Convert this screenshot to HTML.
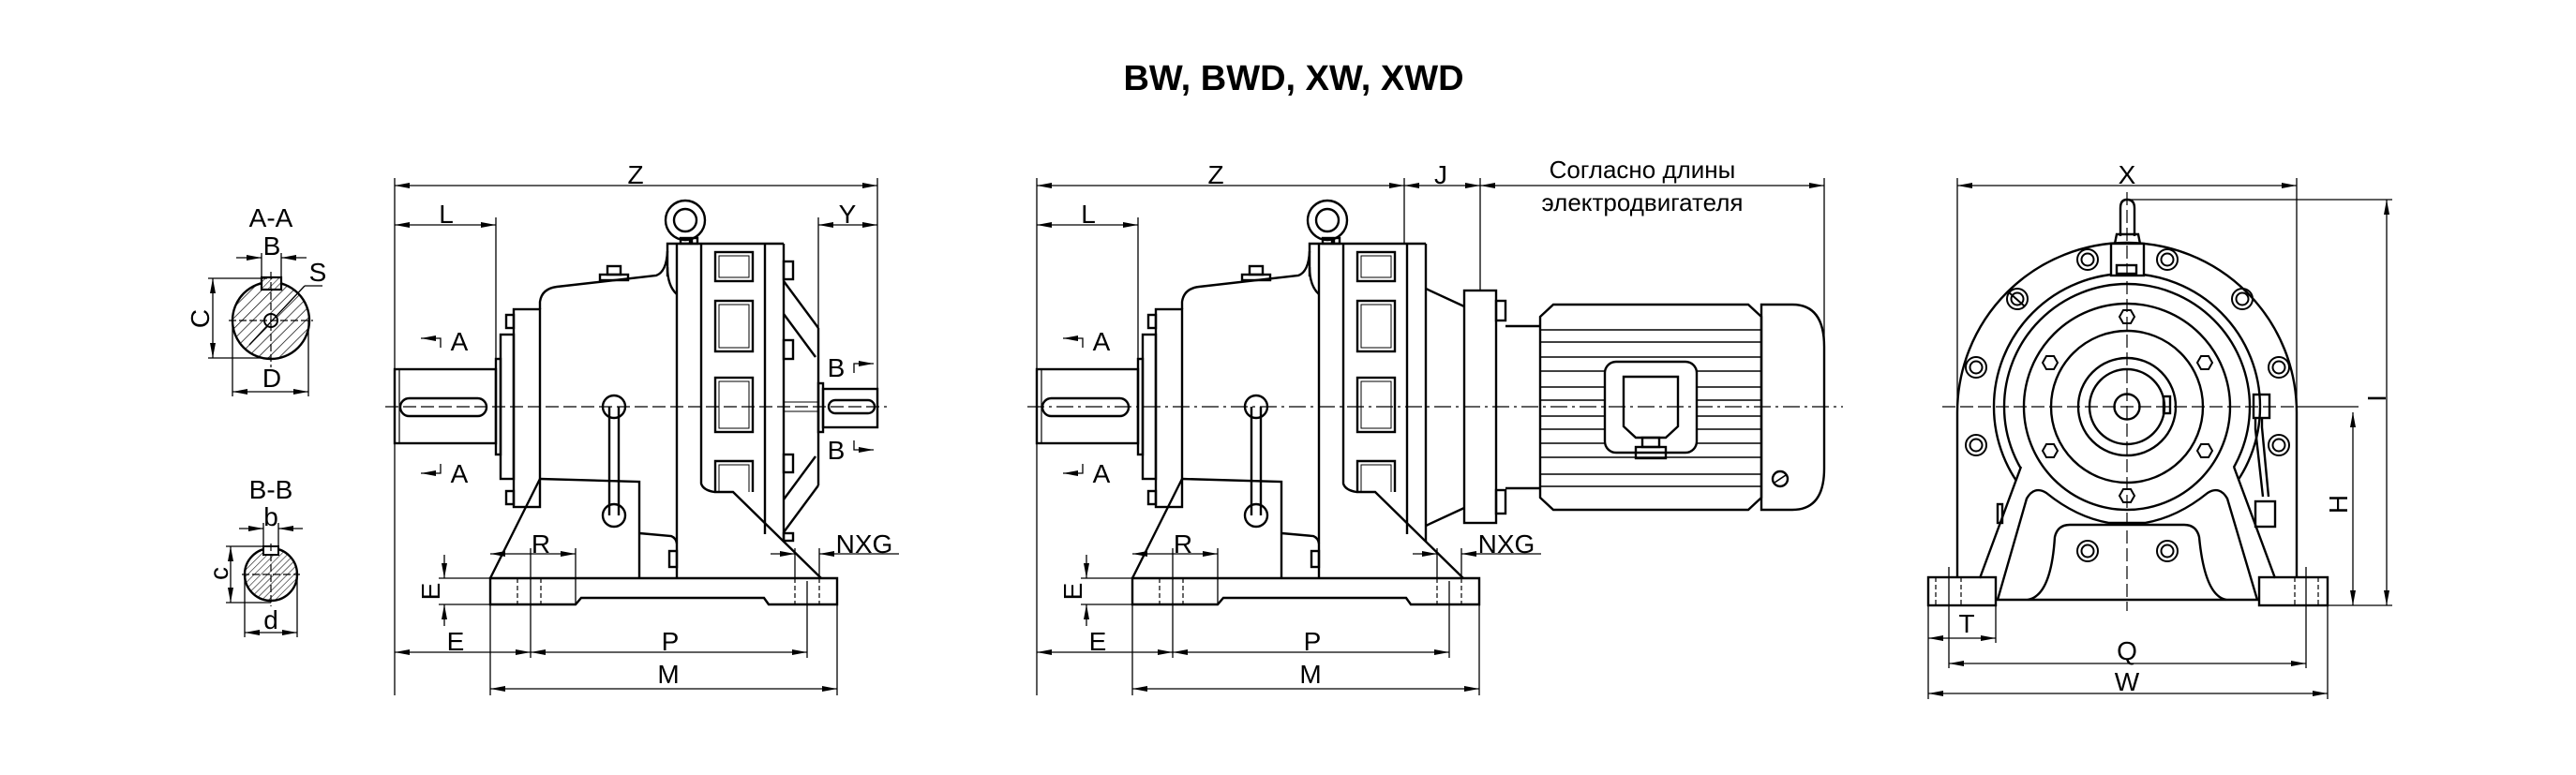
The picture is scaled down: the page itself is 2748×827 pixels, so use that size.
<!DOCTYPE html>
<html><head><meta charset="utf-8"><style>
html,body{margin:0;padding:0;background:#fff;}
svg{display:block;}
text{font-family:"Liberation Sans",sans-serif;fill:#000;}
</style></head><body>
<svg width="2748" height="827" viewBox="0 0 2748 827" xmlns="http://www.w3.org/2000/svg">
<defs>
<marker id="ar" markerUnits="userSpaceOnUse" markerWidth="16" markerHeight="8" refX="16" refY="4" orient="auto-start-reverse"><path d="M0,1 L16,4 L0,7 z" fill="#000"/></marker>
<pattern id="h1" width="8" height="8" patternUnits="userSpaceOnUse" patternTransform="rotate(45)"><line x1="0" y1="0" x2="0" y2="8" stroke="#000" stroke-width="1.4"/></pattern>
<pattern id="h2" width="5" height="5" patternUnits="userSpaceOnUse" patternTransform="rotate(45)"><line x1="0" y1="0" x2="0" y2="5" stroke="#000" stroke-width="1.1"/></pattern>
<g id="common">
 <g fill="none" stroke="#000" stroke-width="2.4">
 <rect x="421" y="394" width="108" height="79"/>
 <line x1="426" y1="394" x2="426" y2="473" stroke-width="1.2"/>
 <rect x="427" y="425" width="92" height="19" rx="9.5"/>
 <rect x="529" y="383" width="5" height="102"/>
 <rect x="534" y="357" width="14" height="154"/>
 <rect x="548" y="330" width="28" height="211"/>
 <rect x="540" y="336" width="8" height="14"/>
 <rect x="540" y="524" width="8" height="14"/>
 <path d="M576,330 L576,322 Q578,308 594,306 L700,294 Q711,290 712,268"/>
 <path d="M712,285 Q712,305 722,314"/>
 <rect x="648" y="284" width="14" height="9"/>
 <rect x="640" y="293" width="30" height="6"/>
 <path d="M576,511 L682,514 L682,617"/>
 <path d="M682,569 L716,572 Q721,574 722,580"/>
 <rect x="714" y="588" width="8" height="17"/>
 <path d="M712,295 L712,260 L836,260"/>
 <line x1="722" y1="260" x2="722" y2="617"/>
 <path d="M748,260 L748,516 Q750,523 762,525 L782,525 L876,617"/>
 <line x1="816" y1="260" x2="816" y2="570"/>
 <line x1="836" y1="260" x2="836" y2="578"/>
 <rect x="726" y="254" width="10" height="6"/>
 <rect x="738" y="254" width="6" height="6"/>
 <circle cx="731" cy="235" r="21"/>
 <circle cx="731" cy="235" r="12"/>
 <rect x="763" y="269" width="40" height="31"/><rect x="767" y="273" width="32" height="23" stroke-width="1"/>
 <rect x="763" y="321" width="40" height="54"/><rect x="767" y="325" width="32" height="46" stroke-width="1"/>
 <rect x="763" y="403" width="40" height="58"/><rect x="767" y="407" width="32" height="50" stroke-width="1"/>
 <path d="M763,525 L763,492 L803,492 L803,525"/><path d="M767,525 L767,496 L799,496 L799,525" stroke-width="1"/>
 <circle cx="655" cy="434" r="12"/>
 <circle cx="655" cy="550" r="12"/>
 <path d="M650,434 L650,550 M660,434 L660,550"/>
 <path d="M523,617 L576,511"/>
 <path d="M523,617 L893,617 L893,645 L820,645 L815,638 L620,638 L614,645 L523,645 Z"/>
 </g>
 <g stroke="#000" stroke-width="1.2" fill="none" stroke-dasharray="5 3">
 <line x1="552" y1="617" x2="552" y2="645"/><line x1="577" y1="617" x2="577" y2="645"/>
 <line x1="848" y1="617" x2="848" y2="645"/><line x1="874" y1="617" x2="874" y2="645"/>
 </g>
 <g stroke="#000" stroke-width="1.3" fill="none">
 <line x1="421" y1="190" x2="421" y2="742"/>
 <line x1="529" y1="232" x2="529" y2="383"/>
 <line x1="421" y1="240" x2="529" y2="240" marker-start="url(#ar)" marker-end="url(#ar)"/>
 <line x1="566" y1="585" x2="566" y2="702"/>
 <line x1="861" y1="620" x2="861" y2="702"/>
 <line x1="523" y1="645" x2="523" y2="742"/>
 <line x1="893" y1="645" x2="893" y2="742"/>
 <line x1="523" y1="591" x2="614" y2="591" marker-start="url(#ar)" marker-end="url(#ar)"/>
 <line x1="614" y1="585" x2="614" y2="645"/>
 <line x1="822" y1="591" x2="848" y2="591" marker-end="url(#ar)"/>
 <line x1="959" y1="591" x2="874" y2="591" marker-end="url(#ar)"/>
 <line x1="848" y1="585" x2="848" y2="617"/>
 <line x1="874" y1="585" x2="874" y2="617"/>
 <line x1="468" y1="617" x2="523" y2="617"/>
 <line x1="468" y1="645" x2="523" y2="645"/>
 <line x1="474" y1="592" x2="474" y2="617" marker-end="url(#ar)"/>
 <line x1="474" y1="668" x2="474" y2="645" marker-end="url(#ar)"/>
 <line x1="421" y1="696" x2="566" y2="696" marker-start="url(#ar)" marker-end="url(#ar)"/>
 <line x1="566" y1="696" x2="861" y2="696" marker-start="url(#ar)" marker-end="url(#ar)"/>
 <line x1="523" y1="735" x2="893" y2="735" marker-start="url(#ar)" marker-end="url(#ar)"/>
 <path d="M470,371 L470,361 L449,361" marker-end="url(#ar)"/>
 <path d="M470,495 L470,505 L449,505" marker-end="url(#ar)"/>
 </g>
 <g font-size="28" text-anchor="middle">
 <text x="476" y="238">L</text>
 <text x="490" y="374">A</text>
 <text x="490" y="515">A</text>
 <text x="577" y="590">R</text>
 <text x="922" y="590">NXG</text>
 <text transform="translate(469,631) rotate(-90)">E</text>
 <text x="486" y="694">E</text>
 <text x="715" y="694">P</text>
 <text x="713" y="729">M</text>
 </g>
</g>
</defs>

<text x="1380" y="96" font-size="38" font-weight="bold" text-anchor="middle">BW, BWD, XW, XWD</text>

<use href="#common"/>
<g fill="none" stroke="#000" stroke-width="2.4">
 <path d="M836,300 L873,350 M836,335 L870,381 M836,568 L873,518 M836,533 L870,487"/>
 <line x1="873" y1="350" x2="873" y2="518"/>
 <rect x="836" y="279" width="10" height="19"/>
 <rect x="836" y="363" width="10" height="20"/>
 <rect x="836" y="485" width="10" height="19"/>
 <rect x="836" y="569" width="10" height="8"/>
 <path d="M836,429 L873,429 M836,439 L873,439" stroke-width="1"/>
 <rect x="873" y="409" width="5" height="52"/>
 <rect x="878" y="415" width="58" height="41"/>
 <rect x="884" y="427" width="49" height="14" rx="7"/>
</g>
<line x1="411" y1="434" x2="946" y2="434" stroke="#000" stroke-width="1.2" stroke-dasharray="14 5"/>
<g stroke="#000" stroke-width="1.3" fill="none">
 <line x1="421" y1="198" x2="936" y2="198" marker-start="url(#ar)" marker-end="url(#ar)"/>
 <line x1="936" y1="190" x2="936" y2="415"/>
 <line x1="873" y1="232" x2="873" y2="350"/>
 <line x1="873" y1="240" x2="936" y2="240" marker-start="url(#ar)" marker-end="url(#ar)"/>
 <path d="M911,398 L911,388 L932,388" marker-end="url(#ar)"/>
 <path d="M911,470 L911,480 L932,480" marker-end="url(#ar)"/>
</g>
<g font-size="28" text-anchor="middle">
 <text x="678" y="196">Z</text>
 <text x="904" y="238">Y</text>
 <text x="892" y="402">B</text>
 <text x="892" y="490">B</text>
</g>

<use href="#common" transform="translate(685,0)"/>
<g fill="none" stroke="#000" stroke-width="2.4">
 <path d="M1521,308 L1562,327 M1521,561 L1562,542"/>
 <rect x="1562" y="310" width="34" height="248"/>
 <rect x="1596" y="321" width="10" height="21"/>
 <rect x="1596" y="523" width="10" height="25"/>
 <path d="M1606,348 L1643,348 M1606,521 L1643,521"/>
 <path d="M1643,338 L1657,325 L1865,325 L1879,338 L1879,531 L1865,544 L1657,544 L1643,531 Z"/>
 <g stroke-width="1.6">
 <path d="M1643,352H1879M1643,365H1879M1643,381H1879M1643,396H1879M1643,413H1879M1643,427H1879M1643,444H1879M1643,458H1879M1643,473H1879M1643,488H1879M1643,506H1879M1643,519H1879"/>
 </g>
 <rect x="1712" y="386" width="98" height="97" rx="12" fill="#fff"/>
 <path d="M1732,455 L1732,402 L1790,402 L1790,455 L1777,467 L1745,467 L1732,455 Z"/>
 <rect x="1752" y="467" width="18" height="10"/>
 <rect x="1745" y="477" width="32" height="12"/>
 <path d="M1879,325 L1912,325 Q1946,325 1946,370 L1946,500 Q1946,544 1912,544 L1879,544 Z"/>
 <circle cx="1899" cy="511" r="8"/>
 <line x1="1893" y1="515" x2="1905" y2="507" stroke-width="1.6"/>
</g>
<line x1="1096" y1="434" x2="1966" y2="434" stroke="#000" stroke-width="1.2" stroke-dasharray="18 5 3 5"/>
<g stroke="#000" stroke-width="1.3" fill="none">
 <line x1="1106" y1="198" x2="1498" y2="198" marker-start="url(#ar)" marker-end="url(#ar)"/>
 <line x1="1498" y1="198" x2="1579" y2="198" marker-start="url(#ar)" marker-end="url(#ar)"/>
 <line x1="1579" y1="198" x2="1946" y2="198" marker-start="url(#ar)" marker-end="url(#ar)"/>
 <line x1="1498" y1="190" x2="1498" y2="260"/>
 <line x1="1579" y1="190" x2="1579" y2="310"/>
 <line x1="1946" y1="190" x2="1946" y2="370"/>
</g>
<g font-size="28" text-anchor="middle">
 <text x="1297" y="196">Z</text>
 <text x="1537" y="196">J</text>
</g>
<g font-size="26" text-anchor="middle">
 <text x="1752" y="190">Согласно длины</text>
 <text x="1752" y="225">электродвигателя</text>
</g>

<g fill="none" stroke="#000" stroke-width="2.4">
 <path d="M2088,615 L2088,440 A181,181 0 0 1 2450,440 L2450,615"/>
 <circle cx="2269" cy="434" r="142"/>
 <circle cx="2269" cy="434" r="131"/>
 <path d="M2112,617 L2156,498 L2383,498 L2427,617 Z" fill="#fff" stroke="none"/>
 <path d="M2112,617 L2156,498 M2427,617 L2383,498"/>
 <circle cx="2269" cy="434" r="110"/>
 <circle cx="2269" cy="434" r="81"/>
 <circle cx="2269" cy="434" r="52"/>
 <circle cx="2269" cy="434" r="40"/>
 <circle cx="2269" cy="434" r="13.5"/>
 <rect x="2308" y="423" width="7" height="18"/>
 <path d="M2131,640 L2162,532 Q2170,518 2183,526 Q2215,552 2250,558 L2288,558 Q2323,552 2355,526 Q2368,518 2376,532 L2408,640"/>
 <path d="M2163,640 Q2188,636 2192,573 Q2195,560 2208,560 L2330,560 Q2343,560 2346,573 Q2352,636 2375,640"/>
 <line x1="2129" y1="640" x2="2410" y2="640"/>
 <rect x="2057" y="616" width="72" height="30"/>
 <rect x="2410" y="616" width="73" height="30"/>
 <rect x="2252" y="260" width="35" height="34" fill="#fff"/>
 <rect x="2258" y="283" width="21" height="9"/>
 <path d="M2262,252 L2262,222 Q2262,213 2269,213 Q2277,213 2277,222 L2277,252"/>
 <path d="M2256,260 L2258,250 L2281,250 L2283,260"/>
 <rect x="2404" y="421" width="17" height="25"/>
 <path d="M2406,446 L2406,458 L2414,530 M2413,446 L2413,456 L2420,530"/>
 <rect x="2406" y="535" width="21" height="27"/>
 <rect x="2131" y="538" width="5" height="20"/>
</g>
<g fill="none" stroke="#000" stroke-width="2">
 <circle cx="2227" cy="277" r="11"/><circle cx="2227" cy="277" r="6.5"/>
 <circle cx="2312" cy="277" r="11"/><circle cx="2312" cy="277" r="6.5"/>
 <circle cx="2152" cy="319" r="11"/><circle cx="2152" cy="319" r="6.5"/>
 <line x1="2143" y1="312" x2="2160" y2="327"/>
 <circle cx="2392" cy="319" r="11"/><circle cx="2392" cy="319" r="6.5"/>
 <circle cx="2108" cy="392" r="11"/><circle cx="2108" cy="392" r="6.5"/>
 <circle cx="2431" cy="392" r="11"/><circle cx="2431" cy="392" r="6.5"/>
 <circle cx="2108" cy="475" r="11"/><circle cx="2108" cy="475" r="6.5"/>
 <circle cx="2431" cy="475" r="11"/><circle cx="2431" cy="475" r="6.5"/>
 <circle cx="2227" cy="588" r="11"/><circle cx="2227" cy="588" r="6.5"/>
 <circle cx="2312" cy="588" r="11"/><circle cx="2312" cy="588" r="6.5"/>
 <g id="hex"><polygon points="2261,338 2265,331 2273,331 2277,338 2273,345 2265,345"/></g>
 <use href="#hex" transform="translate(-82,49)"/>
 <use href="#hex" transform="translate(83,49)"/>
 <use href="#hex" transform="translate(-82,143)"/>
 <use href="#hex" transform="translate(83,143)"/>
 <use href="#hex" transform="translate(0,191)"/>
</g>
<g stroke="#000" stroke-width="1.2" fill="none" stroke-dasharray="14 5">
 <line x1="2072" y1="434" x2="2450" y2="434"/>
 <line x1="2269" y1="205" x2="2269" y2="652"/>
</g>
<g stroke="#000" stroke-width="1.2" fill="none" stroke-dasharray="5 3">
 <line x1="2065" y1="616" x2="2065" y2="646"/><line x1="2092" y1="616" x2="2092" y2="646"/>
 <line x1="2448" y1="616" x2="2448" y2="646"/><line x1="2473" y1="616" x2="2473" y2="646"/>
</g>
<g stroke="#000" stroke-width="1.3" fill="none">
 <line x1="2088" y1="198" x2="2450" y2="198" marker-start="url(#ar)" marker-end="url(#ar)"/>
 <line x1="2088" y1="190" x2="2088" y2="440"/>
 <line x1="2450" y1="190" x2="2450" y2="440"/>
 <line x1="2269" y1="213" x2="2552" y2="213"/>
 <line x1="2483" y1="646" x2="2552" y2="646"/>
 <line x1="2450" y1="434" x2="2516" y2="434"/>
 <line x1="2546" y1="213" x2="2546" y2="646" marker-start="url(#ar)" marker-end="url(#ar)"/>
 <line x1="2510" y1="440" x2="2510" y2="646" marker-start="url(#ar)" marker-end="url(#ar)"/>
 <line x1="2057" y1="646" x2="2057" y2="746"/>
 <line x1="2129" y1="646" x2="2129" y2="686"/>
 <line x1="2483" y1="646" x2="2483" y2="746"/>
 <line x1="2079" y1="605" x2="2079" y2="713"/>
 <line x1="2460" y1="605" x2="2460" y2="713"/>
 <line x1="2057" y1="681" x2="2129" y2="681" marker-start="url(#ar)" marker-end="url(#ar)"/>
 <line x1="2079" y1="708" x2="2460" y2="708" marker-start="url(#ar)" marker-end="url(#ar)"/>
 <line x1="2057" y1="740" x2="2483" y2="740" marker-start="url(#ar)" marker-end="url(#ar)"/>
</g>
<g font-size="28" text-anchor="middle">
 <text x="2269" y="196">X</text>
 <text transform="translate(2545,425) rotate(-90)">I</text>
 <text transform="translate(2504,538) rotate(-90)">H</text>
 <text x="2098" y="675">T</text>
 <text x="2269" y="704">Q</text>
 <text x="2269" y="737">W</text>
</g>

<g stroke="#000" fill="none">
 <circle cx="289" cy="342" r="41" fill="url(#h1)" stroke="none"/>
 <circle cx="289" cy="342" r="41" stroke-width="2.4"/>
 <rect x="279" y="296" width="21" height="13" fill="#fff" stroke-width="2.2"/>
 <rect x="279" y="296" width="21" height="13" fill="url(#h2)" stroke="none"/>
 <circle cx="289" cy="342" r="7" fill="#fff" stroke-width="2"/>
 <g stroke-width="1.2" stroke-dasharray="8 3">
 <line x1="244" y1="342" x2="334" y2="342"/><line x1="289" y1="290" x2="289" y2="392"/>
 </g>
 <g stroke-width="1.3">
 <line x1="266" y1="368" x2="325" y2="305"/><line x1="325" y1="305" x2="344" y2="305"/>
 <line x1="279" y1="270" x2="279" y2="296"/><line x1="300" y1="270" x2="300" y2="296"/>
 <line x1="252" y1="275" x2="279" y2="275" marker-end="url(#ar)"/>
 <line x1="327" y1="275" x2="300" y2="275" marker-end="url(#ar)"/>
 <line x1="222" y1="297" x2="285" y2="297"/><line x1="222" y1="382" x2="289" y2="382"/>
 <line x1="227" y1="297" x2="227" y2="382" marker-start="url(#ar)" marker-end="url(#ar)"/>
 <line x1="248" y1="342" x2="248" y2="423"/><line x1="329" y1="342" x2="329" y2="423"/>
 <line x1="248" y1="418" x2="329" y2="418" marker-start="url(#ar)" marker-end="url(#ar)"/>
 </g>
 <circle cx="289" cy="613" r="28" fill="url(#h2)" stroke="none"/>
 <circle cx="289" cy="613" r="28" stroke-width="2.4"/>
 <rect x="281" y="583" width="16" height="9" fill="#fff" stroke-width="2"/>
 <g stroke-width="1.2" stroke-dasharray="8 3">
 <line x1="258" y1="613" x2="320" y2="613"/><line x1="289" y1="580" x2="289" y2="647"/>
 </g>
 <g stroke-width="1.3">
 <line x1="281" y1="558" x2="281" y2="583"/><line x1="297" y1="558" x2="297" y2="583"/>
 <line x1="255" y1="564" x2="281" y2="564" marker-end="url(#ar)"/>
 <line x1="323" y1="564" x2="297" y2="564" marker-end="url(#ar)"/>
 <line x1="241" y1="583" x2="285" y2="583"/><line x1="241" y1="643" x2="289" y2="643"/>
 <line x1="246" y1="583" x2="246" y2="643" marker-start="url(#ar)" marker-end="url(#ar)"/>
 <line x1="261" y1="613" x2="261" y2="680"/><line x1="317" y1="613" x2="317" y2="680"/>
 <line x1="261" y1="675" x2="317" y2="675" marker-start="url(#ar)" marker-end="url(#ar)"/>
 </g>
</g>
<g font-size="28" text-anchor="middle">
 <text x="289" y="242">A-A</text>
 <text x="290" y="272">B</text>
 <text x="339" y="300">S</text>
 <text transform="translate(223,340) rotate(-90)">C</text>
 <text x="290" y="413">D</text>
 <text x="289" y="532">B-B</text>
 <text x="289" y="561">b</text>
 <text transform="translate(243,612) rotate(-90)">c</text>
 <text x="289" y="671">d</text>
</g>
</svg>
</body></html>
